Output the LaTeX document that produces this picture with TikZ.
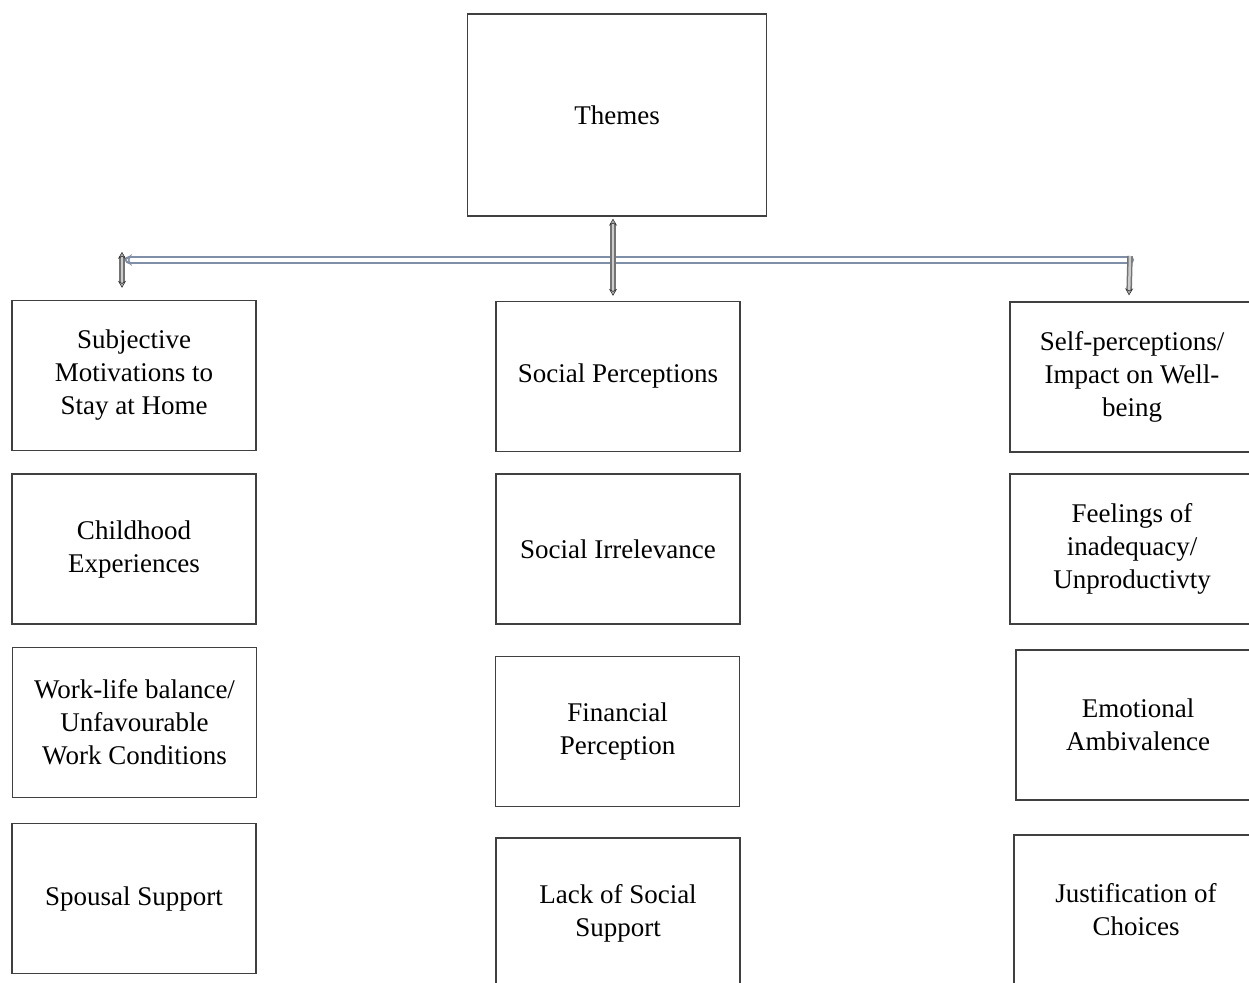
\documentclass[tikz,border=0pt]{standalone}
\usepackage{fontspec}
\setmainfont{Liberation Serif}
\usetikzlibrary{arrows.meta}

\definecolor{barblue}{RGB}{128,143,168}

\begin{document}
\begin{tikzpicture}[x=1pt,y=-1pt,
  box/.style={draw=black!75,line width=1.3pt,minimum width=244pt,minimum height=150pt,
    align=center,font=\fontsize{27}{33}\selectfont},
  bar/.style={draw=barblue,line width=2pt,double=white,double distance=4pt},
  post/.style={draw=gray!90!black,line width=1.5pt,double=gray!40,double distance=2.5pt,
    >={Stealth[length=7pt,width=8pt,fill=gray!60,color=black!80,line width=0.6pt]}}]
  \useasboundingbox (0,0) rectangle (1249,982);
  \clip (0,0) rectangle (1249,982);
  % top
  \node[box,minimum width=299pt,minimum height=202pt] (th) at (617,115) {Themes};
  % left column
  \node[box] (l1) at (134,375.5) {Subjective\\Motivations to\\Stay at Home};
  \node[box] (l2) at (134,549) {Childhood\\Experiences};
  \node[box] (l3) at (134.5,722.5) {Work-life balance/\\Unfavourable\\Work Conditions};
  \node[box] (l4) at (134,898.5) {Spousal Support};
  % middle column
  \node[box] (m1) at (618,376.5) {Social Perceptions};
  \node[box] (m2) at (618,549) {Social Irrelevance};
  \node[box] (m3) at (617.5,731.5) {Financial\\Perception};
  \node[box] (m4) at (618,913) {Lack of Social\\Support};
  % right column
  \node[box] (r1) at (1132,377) {Self-perceptions/\\Impact on Well-\\being};
  \node[box] (r2) at (1132,549) {Feelings of\\inadequacy/\\Unproductivty};
  \node[box] (r3) at (1138,725) {Emotional\\Ambivalence};
  \node[box] (r4) at (1136,910) {Justification of\\Choices};
  % connectors
  \coordinate (hl) at (124,260);
  \coordinate (hr) at (1130,260);
  \draw[bar,line cap=round,{Stealth[length=8pt,width=12pt,open,fill=white]}-] (hl) -- (hr);
  \coordinate (lt) at ([xshift=-12pt,yshift=48pt]l1.north);
  \coordinate (lb) at ([xshift=-12pt,yshift=12pt]l1.north);
  \draw[post,<->] (lt) -- (lb);
  \draw[post,<->] ([xshift=-4pt,yshift=-2pt]th.south) -- ([xshift=-5pt,yshift=5pt]m1.north);
  \draw[post,->] ([yshift=4pt]hr) -- ([xshift=-3pt,yshift=6pt]r1.north);
\end{tikzpicture}
\end{document}
